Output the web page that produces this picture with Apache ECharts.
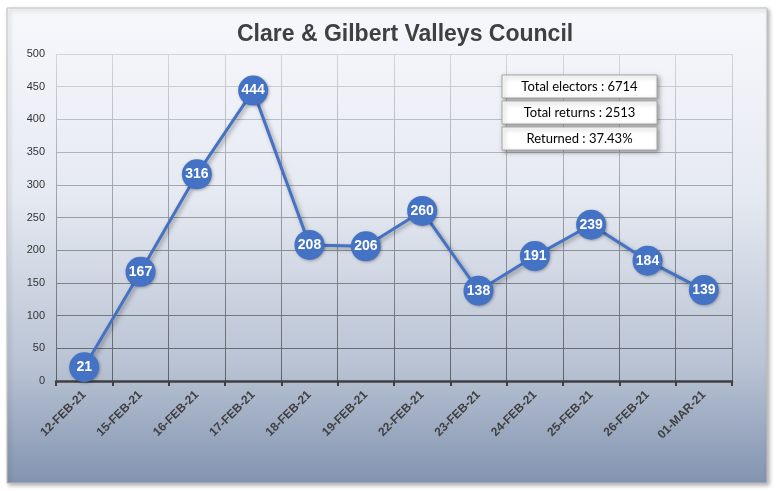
<!DOCTYPE html>
<html><head><meta charset="utf-8">
<script src="https://cdn.jsdelivr.net/npm/echarts@6/dist/echarts.min.js"></script>
<style>html,body{margin:0;padding:0;background:#fff}#c{width:778px;height:491px}</style>
</head><body><div id="c"></div>
<script>
const categories = ['12-FEB-21','15-FEB-21','16-FEB-21','17-FEB-21','18-FEB-21','19-FEB-21','22-FEB-21','23-FEB-21','24-FEB-21','25-FEB-21','26-FEB-21','01-MAR-21'];
const returns = [21,167,316,444,208,206,260,138,191,239,184,139];
const yTicks = {min:0, max:500, interval:50};
const infoLines = ['Total electors : 6714','Total returns : 2513','Returned : 37.43%'];

const chart = echarts.init(document.getElementById('c'));
const gridGrad = {type:'linear', x:0, y:54, x2:0, y2:381, global:true,
  colorStops:[{offset:0,color:'#d4d6da'},{offset:1,color:'#5c6068'}]};
const boxTops = [75,101,127];
const boxRects = infoLines.map((t,i)=>({
  type:'rect', z:5, shape:{x:502,y:boxTops[i],width:155,height:23},
  style:{fill:'#fff', stroke:'#a6a6a6', lineWidth:1, shadowBlur:4, shadowColor:'rgba(0,0,0,0.35)', shadowOffsetX:2, shadowOffsetY:2}}));
const boxTexts = infoLines.map((t,i)=>({
  type:'text', z:6, x:579.5, y:boxTops[i]+12,
  style:{text:t, fill:'#000', fontSize:13, fontFamily:'Lato, "Open Sans", sans-serif', align:'center', verticalAlign:'middle', shadowBlur:0, shadowColor:'transparent', textShadowBlur:0}}));
chart.setOption({
  animation:false,
  graphic:[
    {type:'rect', z:-10, shape:{x:7,y:8,width:760,height:475},
     style:{fill:{type:'linear',x:0,y:0,x2:0,y2:1,colorStops:[
       {offset:0,color:'#f7f8fc'},{offset:0.4,color:'#e5e9f1'},{offset:0.75,color:'#b9c3d4'},{offset:1,color:'#8394b0'}]},
       stroke:'#bfbfbf', lineWidth:1, shadowBlur:4, shadowColor:'rgba(0,0,0,0.3)', shadowOffsetX:2, shadowOffsetY:2}},
    ...boxRects, ...boxTexts
  ],
  title:{text:'Clare & Gilbert Valleys Council', left:232, top:18, itemGap:0,
    textStyle:{fontSize:23, fontWeight:'bold', color:'#404040', fontFamily:'Liberation Sans, Arial, sans-serif'}},
  grid:{left:56, right:46, top:54, bottom:110},
  xAxis:{type:'category', data:categories, boundaryGap:true,
    axisLine:{lineStyle:{color:'#404040', width:2.5}},
    axisTick:{show:true, length:5, lineStyle:{color:'#404040', width:2}},
    splitLine:{show:true, lineStyle:{color:gridGrad, width:1}},
    axisLabel:{rotate:45, margin:12, color:'#404040', fontSize:12, fontWeight:'bold', fontFamily:'Liberation Sans, Arial, sans-serif'}},
  yAxis:{type:'value', min:yTicks.min, max:yTicks.max, interval:yTicks.interval,
    axisLine:{show:false}, axisTick:{show:false},
    splitLine:{show:true, lineStyle:{color:gridGrad, width:1}},
    axisLabel:{margin:11, color:'#333', fontSize:11, fontFamily:'Liberation Sans, Arial, sans-serif'}},
  series:[{type:'line', data:returns, symbol:'circle', symbolSize:30,
    lineStyle:{color:'#4472c4', width:3, shadowColor:'rgba(0,0,0,0.35)', shadowBlur:4, shadowOffsetX:2, shadowOffsetY:2},
    itemStyle:{color:'#4472c4', shadowColor:'rgba(0,0,0,0.3)', shadowBlur:3, shadowOffsetX:1, shadowOffsetY:1},
    label:{show:true, position:'inside', color:'#fff', fontSize:14, fontWeight:'bold', fontFamily:'Liberation Sans, Arial, sans-serif'}}]
});
</script></body></html>
